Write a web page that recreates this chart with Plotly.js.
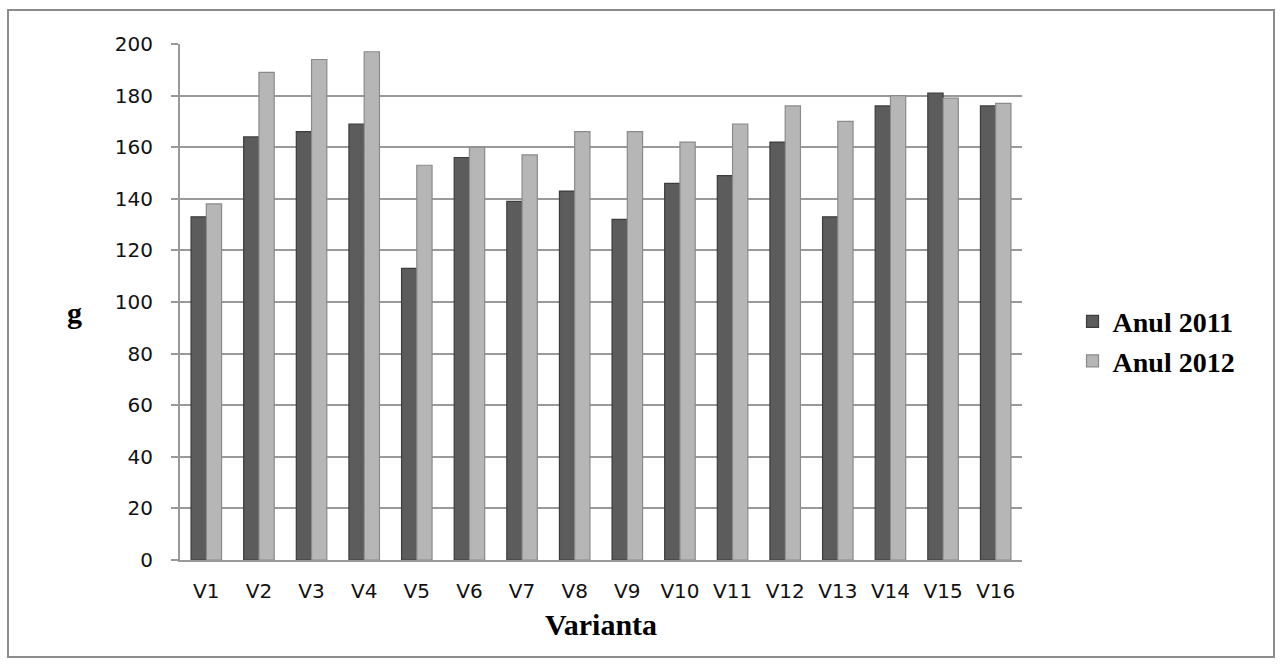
<!DOCTYPE html>
<html>
<head>
<meta charset="utf-8">
<script src="https://cdn.plot.ly/plotly-3.0.1.min.js"></script>
<style>
  html, body { margin: 0; padding: 0; background: #ffffff; }
  #wrap { position: relative; width: 1282px; height: 665px; }
  #chart { width: 1282px; height: 665px; }
  #frame { position: absolute; left: 7px; top: 9px; width: 1264px; height: 645px;
           border: 2px solid #8c8c8c; pointer-events: none; }
</style>
</head>
<body>
<div id="wrap">
  <div id="chart"></div>
  <div id="frame"></div>
</div>
<script>
const categories = ["V1","V2","V3","V4","V5","V6","V7","V8","V9","V10","V11","V12","V13","V14","V15","V16"];
const anul2011 = [133, 164, 166, 169, 113, 156, 139, 143, 132, 146, 149, 162, 133, 176, 181, 176];
const anul2012 = [138, 189, 194, 197, 153, 160, 157, 166, 166, 162, 169, 176, 170, 180, 179, 177];
const seriesNames = ["Anul 2011", "Anul 2012"];
const yTicks = [0, 20, 40, 60, 80, 100, 120, 140, 160, 180, 200];

const traces = [
  {
    type: "bar", name: seriesNames[0], x: categories, y: anul2011,
    marker: { color: "#5c5c5c", line: { color: "#3c3c3c", width: 1.2 } },
    hoverinfo: "x+y+name"
  },
  {
    type: "bar", name: seriesNames[1], x: categories, y: anul2012,
    marker: { color: "#b6b6b6", line: { color: "#8a8a8a", width: 1.2 } },
    hoverinfo: "x+y+name"
  }
];

const layout = {
  width: 1282, height: 665,
  margin: { l: 180, r: 260, t: 44, b: 105, pad: 0 },
  paper_bgcolor: "#ffffff", plot_bgcolor: "#ffffff",
  barmode: "group", bargap: 0.42, bargroupgap: 0,
  font: { family: "DejaVu Sans, sans-serif", color: "#000000" },
  xaxis: {
    type: "category",
    showgrid: false, zeroline: false,
    showline: true, linecolor: "#999999", linewidth: 2,
    ticks: "", tickfont: { family: "DejaVu Sans, sans-serif", size: 20, color: "#111111" },
    ticklabelstandoff: 12,
    title: { text: "Varianta", font: { family: "Liberation Serif, serif", size: 30, color: "#000000", weight: "bold" }, standoff: 12 }
  },
  yaxis: {
    range: [0, 200], tickvals: yTicks, ticktext: yTicks.map(String),
    showgrid: true, gridcolor: "#9a9a9a", gridwidth: 2,
    zeroline: false, showline: true, linecolor: "#999999", linewidth: 2,
    ticks: "outside", ticklen: 7, tickcolor: "#999999", tickwidth: 2,
    tickfont: { family: "DejaVu Sans, sans-serif", size: 20, color: "#111111" },
    ticklabelstandoff: 14
  },
  legend: {
    x: 1.06, y: 0.424, xanchor: "left", yanchor: "middle",
    font: { family: "Liberation Serif, serif", size: 28, color: "#000000", weight: "bold" },
    bgcolor: "rgba(0,0,0,0)", tracegroupgap: 0, itemwidth: 30
  },
  annotations: [
    { text: "g", xref: "paper", yref: "paper", x: -0.125, y: 0.479, xanchor: "center", yanchor: "middle",
      showarrow: false, font: { family: "Liberation Serif, serif", size: 30, color: "#000000", weight: "bold" } }
  ],
  showlegend: true
};

Plotly.newPlot("chart", traces, layout, { displayModeBar: false, staticPlot: true });
</script>
</body>
</html>
